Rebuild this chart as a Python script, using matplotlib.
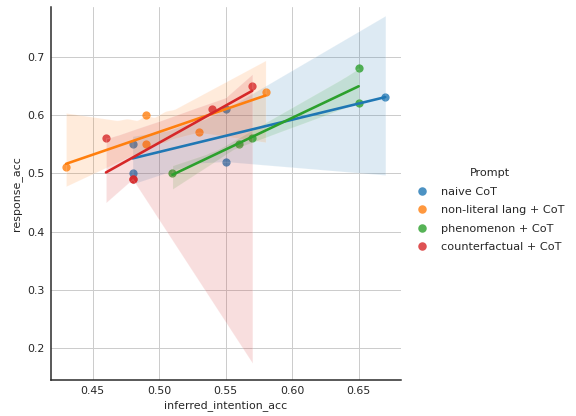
import numpy as np
import pandas as pd
import matplotlib
matplotlib.use("Agg")
import matplotlib.pyplot as plt
import seaborn as sns

# data
prompts = ["naive CoT", "non-literal lang + CoT", "phenomenon + CoT", "counterfactual + CoT"]
naive_x = [0.48, 0.48, 0.55, 0.55, 0.67]
naive_y = [0.55, 0.50, 0.52, 0.61, 0.63]
nonlit_x = [0.43, 0.49, 0.49, 0.53, 0.58]
nonlit_y = [0.51, 0.60, 0.55, 0.57, 0.64]
phen_x = [0.51, 0.56, 0.57, 0.65, 0.65]
phen_y = [0.50, 0.55, 0.56, 0.62, 0.68]
counter_x = [0.46, 0.48, 0.48, 0.54, 0.57]
counter_y = [0.56, 0.49, 0.49, 0.61, 0.65]

xs = [naive_x, nonlit_x, phen_x, counter_x]
ys = [naive_y, nonlit_y, phen_y, counter_y]

rows = []
for p, xv, yv in zip(prompts, xs, ys):
    for a, b in zip(xv, yv):
        rows.append({"Prompt": p, "inferred_intention_acc": a, "response_acc": b})
df = pd.DataFrame(rows)

sns.set_style("whitegrid")
plt.rcParams["font.family"] = ["DejaVu Sans"]
colors = sns.color_palette("tab10", 4)

fig = plt.figure(figsize=(8, 416 / 72), dpi=72)
ax = fig.add_axes([50.5 / 576, 36 / 416, 350.5 / 576, 373 / 416])

for p, c in zip(prompts, colors):
    sub = df[df["Prompt"] == p]
    sns.regplot(data=sub, x="inferred_intention_acc", y="response_acc", ax=ax,
                color=c, seed=3, truncate=True,
                scatter_kws={"s": 68, "linewidths": 0},
                line_kws={"linewidth": 2.6})

ax.set_xlim(0.4183, 0.6818)
ax.set_ylim(0.1457, 0.785)
ax.set_xticks([0.45, 0.50, 0.55, 0.60, 0.65])
ax.set_yticks([0.2, 0.3, 0.4, 0.5, 0.6, 0.7])
ax.tick_params(labelsize=11, length=0, pad=6, labelcolor="#262626")
ax.set_xlabel("inferred_intention_acc", fontsize=11, color="#262626")
ax.set_ylabel("response_acc", fontsize=11, color="#262626")
ax.grid(True, color="#cccccc", linewidth=1)
for s in ["top", "right"]:
    ax.spines[s].set_visible(False)
for s in ["left", "bottom"]:
    ax.spines[s].set_color("#262626")
    ax.spines[s].set_linewidth(1.5)

handles = [plt.Line2D([], [], marker="o", linestyle="", color=c, alpha=0.8,
                      markersize=8.5, markeredgewidth=0) for c in colors]
leg = fig.legend(handles, prompts, title="Prompt", loc="center left",
                 bbox_to_anchor=(405 / 576, 0.495), frameon=False, fontsize=11.3,
                 title_fontsize=11.3, handletextpad=1.05, labelspacing=0.75,
                 handlelength=1.2)
leg.get_title().set_color("#262626")

fig.savefig("out.png", dpi=72)
